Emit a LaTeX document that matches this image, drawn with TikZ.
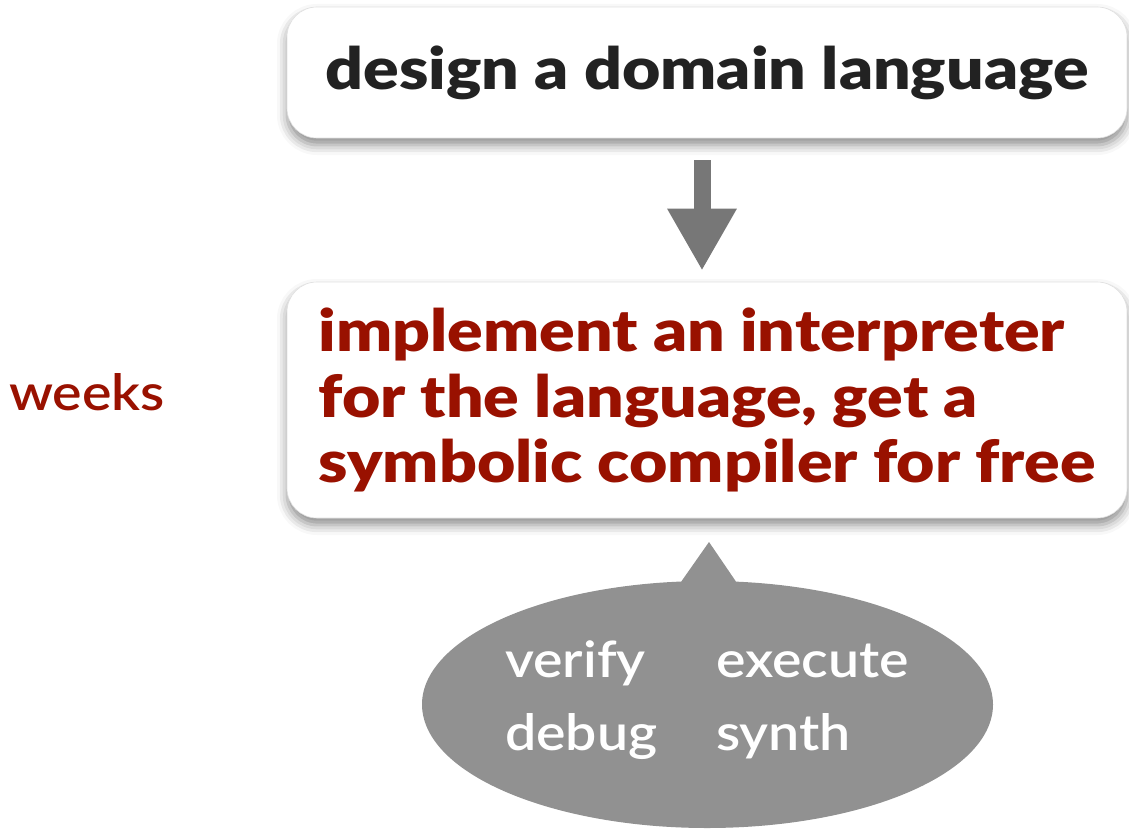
\documentclass[tikz,border=0pt]{standalone}
\usepackage{fontspec}
\setmainfont{Lato}[UprightFont={Lato Semibold}, FakeStretch=1.11, BoldFont={Lato Black}, BoldFeatures={FakeStretch=1.14}]
\usetikzlibrary{shapes.callouts,shadows.blur,arrows.meta}
\definecolor{dred}{HTML}{991100}
\definecolor{dtext}{HTML}{222222}
\definecolor{agray}{HTML}{777777}
\definecolor{egray}{HTML}{919191}
\tikzset{
  box/.style={draw=black!12, line width=0.6pt, fill=white, rounded corners=30pt,
    minimum width=840pt, inner sep=0pt,
    blur shadow={shadow xshift=0pt, shadow yshift=-7pt, shadow blur radius=10pt, shadow opacity=45}},
  bigtxt/.style={font=\bfseries\fontsize{58}{65.5}\selectfont},
  bubbletxt/.style={text=white, font=\fontsize{50}{60}\selectfont, anchor=base west, inner sep=0pt},
}
\begin{document}
\begin{tikzpicture}[x=1pt,y=-1pt]
\useasboundingbox (0,0) rectangle (1129,829);
\node[box, minimum height=131pt, text=dtext, bigtxt] (design) at (707,72.5) {design a domain language};
\node[box, minimum height=236pt, text=dred, bigtxt, align=left] (impl) at (707,400) {implement an interpreter\\for the language, get a\\symbolic compiler for free};
\draw[agray, line width=17pt, -{Triangle[width=65pt,length=62pt]}] ([xshift=-5pt,yshift=-22pt]design.south) -- ([xshift=-5pt,yshift=11pt]impl.north);
\node[text=dred, font=\fontsize{50}{60}\selectfont, anchor=base west, inner sep=0pt] (weeks) at (9,410) {weeks};
\node[ellipse callout, fill=egray, minimum width=571pt, minimum height=247pt, inner sep=0pt,
  callout pointer arc=11, callout absolute pointer={(709,542)}] (bubble) at (707.5,704.5) {};
\node[bubbletxt] (verify) at (505,677) {verify};
\node[bubbletxt] (execute) at (716,677) {execute};
\node[bubbletxt] (debug) at (505,750) {debug};
\node[bubbletxt] (synth) at (716,750) {synth};
\end{tikzpicture}
\end{document}
